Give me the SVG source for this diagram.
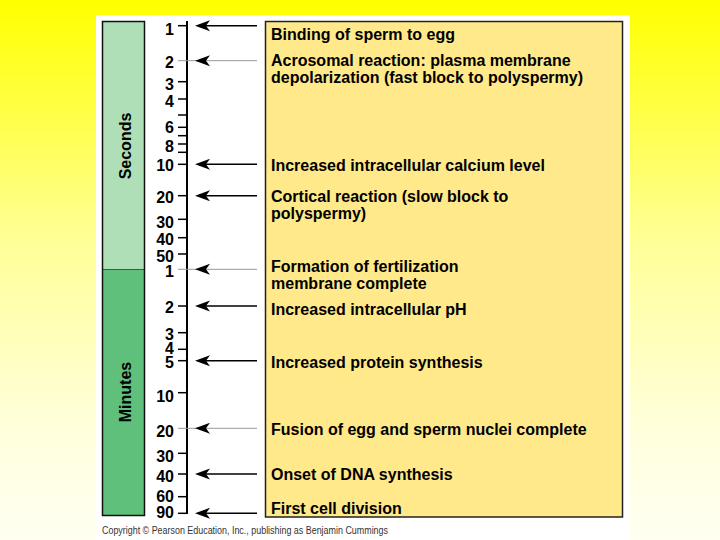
<svg xmlns="http://www.w3.org/2000/svg" width="720" height="540" viewBox="0 0 720 540">
<defs>
<linearGradient id="bg" x1="0" y1="0" x2="0" y2="1">
<stop offset="0" stop-color="#FFFF00"/>
<stop offset="0.45" stop-color="#FFFF99"/>
<stop offset="0.8" stop-color="#FFFFDD"/>
<stop offset="1" stop-color="#FFFFF2"/>
</linearGradient>
<path id="ah" d="M0,0 L15,-5.5 L11,0 L15,5.5 Z" fill="#000"/>
<style>
.lbl{font-family:"Liberation Sans",Arial,sans-serif;font-weight:bold;font-size:16px;fill:#000}
.num{font-family:"Liberation Sans",Arial,sans-serif;font-weight:bold;font-size:16px;fill:#000;text-anchor:end}
.tick{stroke:#000;stroke-width:1.5}
.gtick{stroke:#999;stroke-width:1}
.arr{stroke:#000;stroke-width:1.5}
.garr{stroke:#999;stroke-width:1}
.copy{font-family:"Liberation Sans",Arial,sans-serif;font-size:10px;fill:#333}
</style>
</defs>
<rect x="0" y="0" width="720" height="540" fill="url(#bg)"/>
<rect x="96" y="15" width="534" height="525" fill="#FFFFFF"/>

<g id="timebar">
<rect x="102.5" y="21.5" width="42" height="248" fill="#AEDFB6"/>
<rect x="102.5" y="269.5" width="42" height="246" fill="#5EC07A"/>
<line x1="102.5" y1="269.5" x2="144.5" y2="269.5" stroke="#333" stroke-width="0.8"/>
<rect x="102.5" y="21.5" width="42" height="494" fill="none" stroke="#111" stroke-width="1.5"/>
<text class="lbl" text-anchor="middle" transform="translate(131,146) rotate(-90)">Seconds</text>
<text class="lbl" text-anchor="middle" transform="translate(131,392) rotate(-90)">Minutes</text>
</g>

<g id="scale">
<line x1="187" y1="21" x2="187" y2="514" stroke="#000" stroke-width="2"/>
<line class="tick" x1="178" y1="25.7" x2="187" y2="25.7"/>
<line class="tick" x1="178" y1="81.7" x2="187" y2="81.7"/>
<line class="tick" x1="178" y1="99" x2="187" y2="99"/>
<line class="tick" x1="178" y1="115" x2="187" y2="115"/>
<line class="tick" x1="178" y1="127.3" x2="187" y2="127.3"/>
<line class="tick" x1="178" y1="135.7" x2="187" y2="135.7"/>
<line class="tick" x1="178" y1="144" x2="187" y2="144"/>
<line class="tick" x1="178" y1="152.3" x2="187" y2="152.3"/>
<line class="tick" x1="178" y1="164.3" x2="187" y2="164.3"/>
<line class="tick" x1="178" y1="195.7" x2="187" y2="195.7"/>
<line class="tick" x1="178" y1="219.3" x2="187" y2="219.3"/>
<line class="tick" x1="178" y1="237.7" x2="187" y2="237.7"/>
<line class="tick" x1="178" y1="254" x2="187" y2="254"/>
<line class="tick" x1="178" y1="306" x2="187" y2="306"/>
<line class="tick" x1="178" y1="332.7" x2="187" y2="332.7"/>
<line class="tick" x1="178" y1="349.3" x2="187" y2="349.3"/>
<line class="tick" x1="178" y1="360.7" x2="187" y2="360.7"/>
<line class="tick" x1="178" y1="392.7" x2="187" y2="392.7"/>
<line class="tick" x1="178" y1="453.3" x2="187" y2="453.3"/>
<line class="tick" x1="178" y1="474" x2="187" y2="474"/>
<line class="tick" x1="178" y1="496.7" x2="187" y2="496.7"/>
<line class="tick" x1="178" y1="513.3" x2="187" y2="513.3"/>
<line class="gtick" x1="178" y1="60.7" x2="187" y2="60.7"/>
<line class="gtick" x1="178" y1="269.3" x2="187" y2="269.3"/>
<line class="gtick" x1="178" y1="428.3" x2="187" y2="428.3"/>
<text class="num" x="174" y="35">1</text>
<text class="num" x="174" y="68">2</text>
<text class="num" x="174" y="90">3</text>
<text class="num" x="174" y="106.5">4</text>
<text class="num" x="174" y="133">6</text>
<text class="num" x="174" y="151.5">8</text>
<text class="num" x="174" y="170.5">10</text>
<text class="num" x="174" y="202.5">20</text>
<text class="num" x="174" y="227.5">30</text>
<text class="num" x="174" y="245">40</text>
<text class="num" x="174" y="261.5">50</text>
<text class="num" x="174" y="276.5">1</text>
<text class="num" x="174" y="312.5">2</text>
<text class="num" x="174" y="339.5">3</text>
<text class="num" x="174" y="354">4</text>
<text class="num" x="174" y="367.5">5</text>
<text class="num" x="174" y="401.5">10</text>
<text class="num" x="174" y="436.5">20</text>
<text class="num" x="174" y="461.5">30</text>
<text class="num" x="174" y="481.5">40</text>
<text class="num" x="174" y="502">60</text>
<text class="num" x="174" y="517.5">90</text>
</g>

<g id="connectors">
<line class="arr" x1="206" y1="25.7" x2="257" y2="25.7"/><use href="#ah" x="195" y="25.7"/>
<line class="garr" x1="187" y1="60.7" x2="257" y2="60.7"/><use href="#ah" x="195" y="60.7"/>
<line class="arr" x1="206" y1="164.3" x2="257" y2="164.3"/><use href="#ah" x="195" y="164.3"/>
<line class="arr" x1="206" y1="195.7" x2="257" y2="195.7"/><use href="#ah" x="195" y="195.7"/>
<line class="garr" x1="187" y1="269.3" x2="257" y2="269.3"/><use href="#ah" x="195" y="269.3"/>
<line class="arr" x1="206" y1="306" x2="257" y2="306"/><use href="#ah" x="195" y="306"/>
<line class="arr" x1="206" y1="360.7" x2="257" y2="360.7"/><use href="#ah" x="195" y="360.7"/>
<line class="garr" x1="187" y1="428.3" x2="257" y2="428.3"/><use href="#ah" x="195" y="428.3"/>
<line class="arr" x1="206" y1="474" x2="257" y2="474"/><use href="#ah" x="195" y="474"/>
<line class="arr" x1="206" y1="513.3" x2="257" y2="513.3"/><use href="#ah" x="195" y="513.3"/>
</g>

<g id="events">
<rect x="265.5" y="21.5" width="357" height="495.5" fill="#FFE98A" stroke="#222" stroke-width="1.5"/>
<g id="e1"><text class="lbl" x="271" y="40">Binding of sperm to egg</text></g>
<g id="e2"><text class="lbl" x="271" y="66">Acrosomal reaction: plasma membrane</text><text class="lbl" x="271" y="83">depolarization (fast block to polyspermy)</text></g>
<g id="e3"><text class="lbl" x="271" y="171">Increased intracellular calcium level</text></g>
<g id="e4"><text class="lbl" x="271" y="202">Cortical reaction (slow block to</text><text class="lbl" x="271" y="219">polyspermy)</text></g>
<g id="e5"><text class="lbl" x="271" y="272">Formation of fertilization</text><text class="lbl" x="271" y="289">membrane complete</text></g>
<g id="e6"><text class="lbl" x="271" y="315">Increased intracellular pH</text></g>
<g id="e7"><text class="lbl" x="271" y="368">Increased protein synthesis</text></g>
<g id="e8"><text class="lbl" x="271" y="435">Fusion of egg and sperm nuclei complete</text></g>
<g id="e9"><text class="lbl" x="271" y="480">Onset of DNA synthesis</text></g>
<g id="e10"><text class="lbl" x="271" y="514">First cell division</text></g>
</g>

<text class="copy" x="102" y="534" textLength="286" lengthAdjust="spacingAndGlyphs">Copyright © Pearson Education, Inc., publishing as Benjamin Cummings</text>
</svg>
